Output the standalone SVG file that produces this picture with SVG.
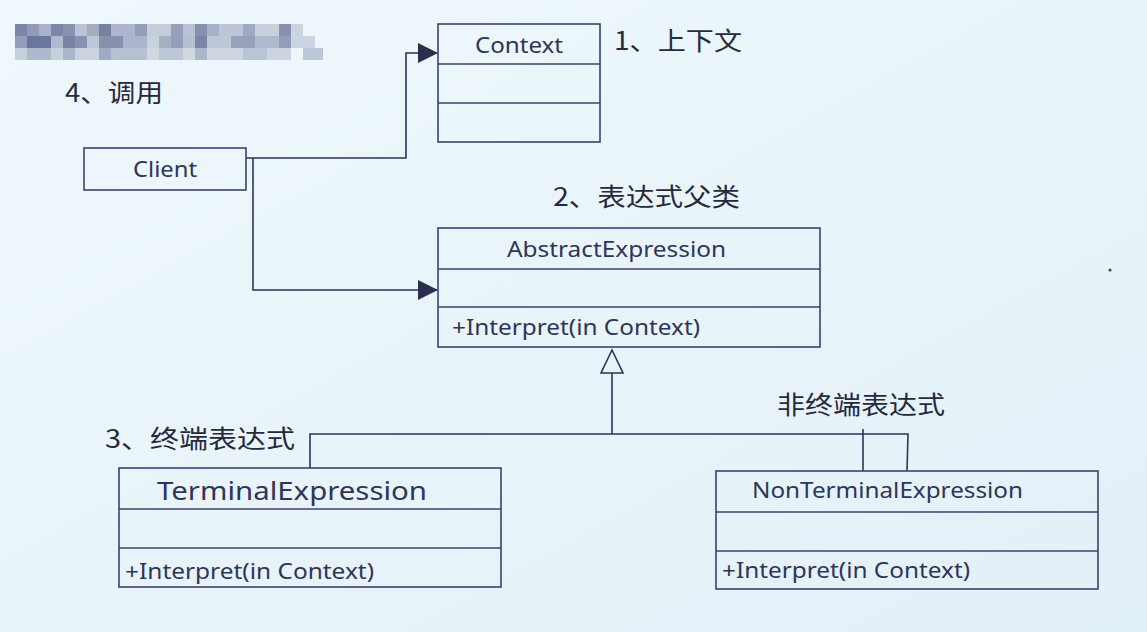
<svg xmlns="http://www.w3.org/2000/svg" width="1147" height="632" viewBox="0 0 1147 632">
  <defs>
    <linearGradient id="bg" x1="0" y1="0" x2="1" y2="1">
      <stop offset="0" stop-color="#eff8fc"/>
      <stop offset="1" stop-color="#e2f0f7"/>
    </linearGradient>
    <marker id="filled" viewBox="0 0 20 20" refX="19" refY="10" markerWidth="20" markerHeight="20" markerUnits="userSpaceOnUse" orient="auto">
      <path d="M0,0 L20,10 L0,20 Z" fill="#2a2f4e"/>
    </marker>
    <style>
      .box { fill: none; stroke: #3b4270; stroke-width: 1.6; }
      .div { stroke: #3b4270; stroke-width: 1.6; }
      .conn { fill: none; stroke: #2e3358; stroke-width: 1.6; }
      .t { font-family: "Noto Sans", "Open Sans", sans-serif; fill: #2f3558; }
      .cn { font-family: "Noto Sans CJK SC", "Noto Sans", sans-serif; fill: #262a3e; font-size: 25px; }
    </style>
  </defs>
  <rect width="1147" height="632" fill="url(#bg)"/>

  <!-- pixelated watermark -->
  <g id="watermark" opacity="0.9">
    <rect x="15" y="24" width="12" height="12" fill="#6f7aa0"/>
    <rect x="27" y="24" width="12" height="12" fill="#8890b0"/>
    <rect x="39" y="24" width="12" height="12" fill="#a3abc6"/>
    <rect x="51" y="24" width="12" height="12" fill="#6f7aa0"/>
    <rect x="63" y="24" width="12" height="12" fill="#7e88aa"/>
    <rect x="75" y="24" width="12" height="12" fill="#b6bfd2"/>
    <rect x="87" y="24" width="12" height="12" fill="#9aa7b8"/>
    <rect x="99" y="24" width="12" height="12" fill="#6a7598"/>
    <rect x="111" y="24" width="24" height="12" fill="#a6b0c8"/>
    <rect x="135" y="24" width="12" height="12" fill="#8a95b5"/>
    <rect x="147" y="24" width="24" height="12" fill="#c0cad8"/>
    <rect x="171" y="24" width="12" height="12" fill="#8d97b3"/>
    <rect x="183" y="24" width="12" height="12" fill="#b3bdd0"/>
    <rect x="195" y="24" width="12" height="12" fill="#7b86a8"/>
    <rect x="207" y="24" width="12" height="12" fill="#a0aac3"/>
    <rect x="219" y="24" width="24" height="12" fill="#b8c1d4"/>
    <rect x="243" y="24" width="12" height="12" fill="#98a3bb"/>
    <rect x="255" y="24" width="24" height="12" fill="#c3ccda"/>
    <rect x="279" y="24" width="12" height="12" fill="#7c86a6"/>
    <rect x="291" y="24" width="12" height="12" fill="#c8d1de"/>
    <rect x="15" y="36" width="12" height="12" fill="#8a94b4"/>
    <rect x="27" y="36" width="24" height="12" fill="#5d6893"/>
    <rect x="51" y="36" width="12" height="12" fill="#aab3c9"/>
    <rect x="63" y="36" width="12" height="12" fill="#6c779c"/>
    <rect x="75" y="36" width="12" height="12" fill="#7d87aa"/>
    <rect x="87" y="36" width="12" height="12" fill="#b9c2d4"/>
    <rect x="99" y="36" width="24" height="12" fill="#7b86a6"/>
    <rect x="123" y="36" width="24" height="12" fill="#a4aec6"/>
    <rect x="147" y="36" width="12" height="12" fill="#c6cfdc"/>
    <rect x="159" y="36" width="12" height="12" fill="#9fa9c0"/>
    <rect x="171" y="36" width="12" height="12" fill="#8c96b3"/>
    <rect x="183" y="36" width="12" height="12" fill="#b0bace"/>
    <rect x="195" y="36" width="12" height="12" fill="#6f7a9e"/>
    <rect x="207" y="36" width="24" height="12" fill="#b9c2d4"/>
    <rect x="231" y="36" width="24" height="12" fill="#8e98b6"/>
    <rect x="255" y="36" width="24" height="12" fill="#aab4c9"/>
    <rect x="279" y="36" width="12" height="12" fill="#8a94b3"/>
    <rect x="291" y="36" width="24" height="12" fill="#c8d1de"/>
    <rect x="15" y="48" width="12" height="12" fill="#c2cbd9"/>
    <rect x="27" y="48" width="24" height="12" fill="#a9b3c9"/>
    <rect x="51" y="48" width="12" height="12" fill="#c3ccda"/>
    <rect x="63" y="48" width="12" height="12" fill="#a6b0c7"/>
    <rect x="75" y="48" width="24" height="12" fill="#c7d0dd"/>
    <rect x="99" y="48" width="12" height="12" fill="#98a3bc"/>
    <rect x="111" y="48" width="36" height="12" fill="#b2bccf"/>
    <rect x="147" y="48" width="12" height="12" fill="#cdd5e0"/>
    <rect x="159" y="48" width="24" height="12" fill="#b9c3d4"/>
    <rect x="183" y="48" width="12" height="12" fill="#cdd5e0"/>
    <rect x="195" y="48" width="12" height="12" fill="#a5afc6"/>
    <rect x="207" y="48" width="36" height="12" fill="#c9d2de"/>
    <rect x="243" y="48" width="24" height="12" fill="#b5bfd1"/>
    <rect x="267" y="48" width="24" height="12" fill="#c8d1de"/>
    <rect x="303" y="48" width="20" height="12" fill="#b9c2d4"/>
  </g>

  <!-- labels -->
  <g id="labels">
    <text class="cn" x="614" y="50" textLength="128" lengthAdjust="spacingAndGlyphs">1、上下文</text>
    <text class="cn" x="65" y="102" textLength="98" lengthAdjust="spacingAndGlyphs">4、调用</text>
    <text class="cn" x="553" y="206" textLength="187" lengthAdjust="spacingAndGlyphs">2、表达式父类</text>
    <text class="cn" x="105" y="448" textLength="190" lengthAdjust="spacingAndGlyphs">3、终端表达式</text>
    <text class="cn" x="777" y="414" textLength="168" lengthAdjust="spacingAndGlyphs">非终端表达式</text>
  </g>

  <!-- connectors -->
  <g id="connectors">
    <polyline class="conn" points="246,158 406,158 406,53 437,53" marker-end="url(#filled)"/>
    <polyline class="conn" points="253,158 253,290 437,290" marker-end="url(#filled)"/>
    <line class="conn" x1="612" y1="373" x2="612" y2="434"/>
    <polygon class="conn" points="612,350 601,373 623,373"/>
    <polyline class="conn" points="310,468 310,434 908,434 907,471"/>
    <line class="conn" x1="863" y1="429" x2="863" y2="471"/>
  </g>

  <!-- nodes -->
  <g id="context">
    <rect class="box" x="438" y="24" width="162" height="118"/>
    <line class="div" x1="438" y1="64" x2="600" y2="64"/>
    <line class="div" x1="438" y1="103" x2="600" y2="103"/>
    <text class="t" x="519" y="53" font-size="21" text-anchor="middle" textLength="88" lengthAdjust="spacingAndGlyphs">Context</text>
  </g>

  <g id="client">
    <rect class="box" x="84" y="148" width="162" height="42"/>
    <text class="t" x="165" y="177" font-size="21" text-anchor="middle" textLength="64" lengthAdjust="spacingAndGlyphs">Client</text>
  </g>

  <g id="abstract">
    <rect class="box" x="438" y="228" width="382" height="119"/>
    <line class="div" x1="438" y1="269" x2="820" y2="269"/>
    <line class="div" x1="438" y1="307" x2="820" y2="307"/>
    <text class="t" x="507" y="257" font-size="21" textLength="219" lengthAdjust="spacingAndGlyphs">AbstractExpression</text>
    <text class="t" x="452" y="335" font-size="21" textLength="248" lengthAdjust="spacingAndGlyphs">+Interpret(in Context)</text>
  </g>

  <g id="terminal">
    <rect class="box" x="119" y="468" width="382" height="119"/>
    <line class="div" x1="119" y1="509" x2="501" y2="509"/>
    <line class="div" x1="119" y1="548" x2="501" y2="548"/>
    <text class="t" x="157" y="500" font-size="26" textLength="270" lengthAdjust="spacingAndGlyphs">TerminalExpression</text>
    <text class="t" x="125" y="579" font-size="21" textLength="249" lengthAdjust="spacingAndGlyphs">+Interpret(in Context)</text>
  </g>

  <g id="nonterminal">
    <rect class="box" x="716" y="471" width="382" height="118"/>
    <line class="div" x1="716" y1="512" x2="1098" y2="512"/>
    <line class="div" x1="716" y1="551" x2="1098" y2="551"/>
    <text class="t" x="752" y="498" font-size="21" textLength="271" lengthAdjust="spacingAndGlyphs">NonTerminalExpression</text>
    <text class="t" x="722" y="578" font-size="21" textLength="248" lengthAdjust="spacingAndGlyphs">+Interpret(in Context)</text>
  </g>

  <circle cx="1110" cy="270" r="1.6" fill="#5a3a55"/>
</svg>
